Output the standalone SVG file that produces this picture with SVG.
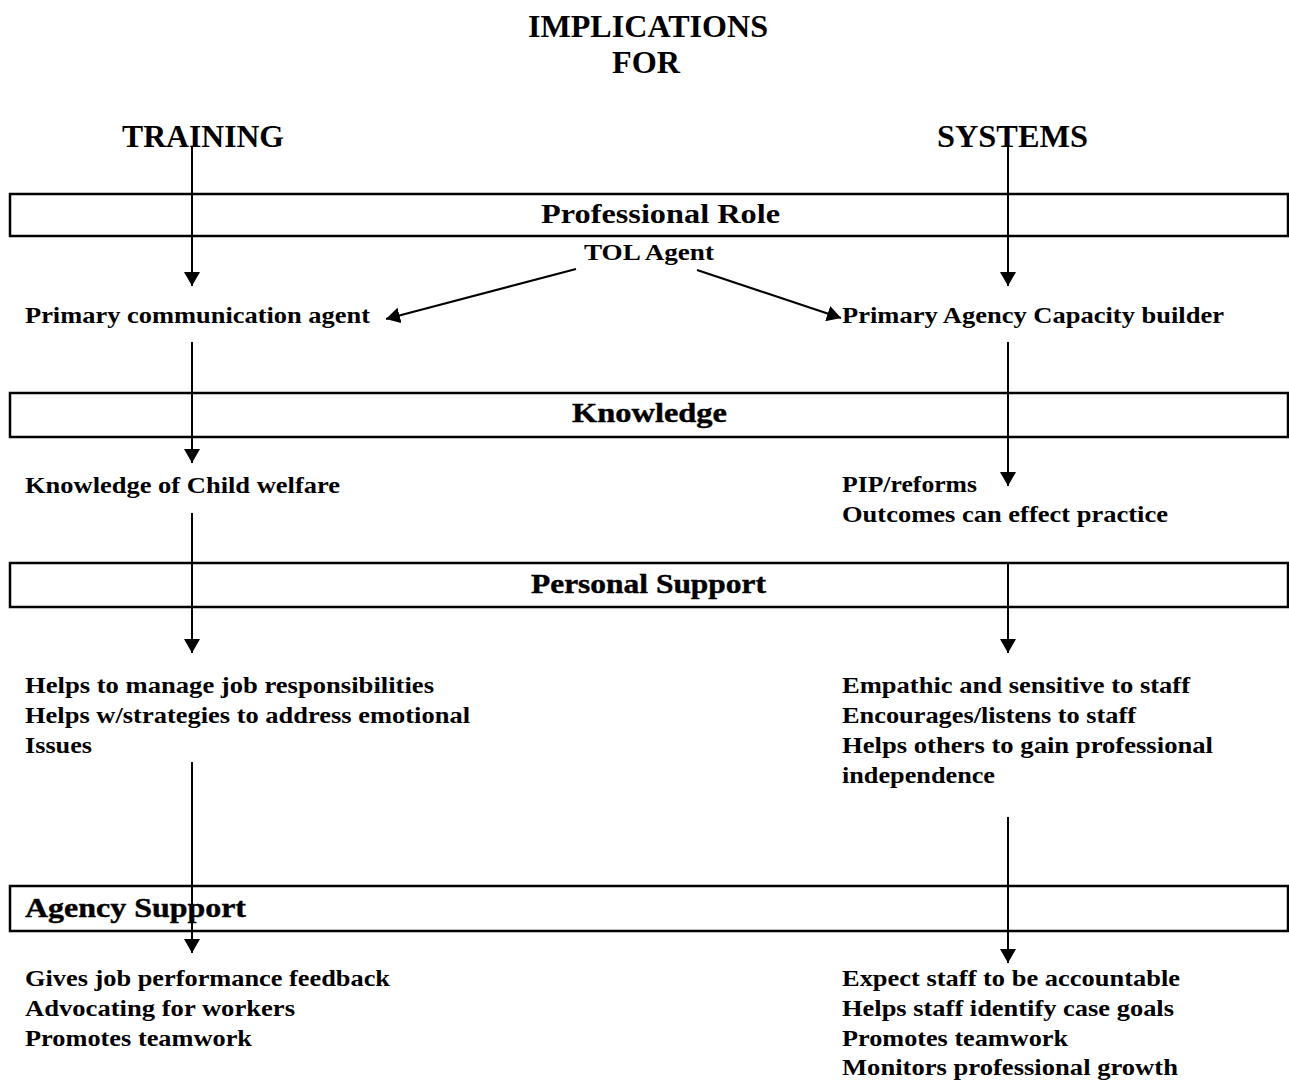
<svg xmlns="http://www.w3.org/2000/svg" width="1289" height="1082" viewBox="0 0 1289 1082">
<style>
text{font-family:"Liberation Serif","Times New Roman",serif;font-weight:bold;fill:#000}
.t{font-size:32px}
.b{font-size:23px}
.h{font-size:27px;stroke:#000;stroke-width:0.4}
.box{fill:none;stroke:#000;stroke-width:2.5}
.ln{stroke:#000;stroke-width:2;fill:none}
</style>
<defs>
<marker id="ah" viewBox="0 0 14 16" refX="14" refY="8" markerWidth="14" markerHeight="16" markerUnits="userSpaceOnUse" orient="auto">
<path d="M0,0 L14,8 L0,16 Z" fill="#000"/>
</marker>
</defs>
<rect width="1289" height="1082" fill="#fff"/>
<g id="title">
<text class="t" x="528" y="37" textLength="240" lengthAdjust="spacingAndGlyphs">IMPLICATIONS</text>
<text class="t" x="612" y="73" textLength="68" lengthAdjust="spacingAndGlyphs">FOR</text>
</g>
<g id="training"><text class="t" x="122" y="147" textLength="162" lengthAdjust="spacingAndGlyphs">TRAINING</text></g>
<g id="systems"><text class="t" x="937" y="147" textLength="151" lengthAdjust="spacingAndGlyphs">SYSTEMS</text></g>
<g id="box-professional-role">
<rect class="box" x="10" y="194" width="1278" height="42"/>
<text class="b" x="541" y="223" style="font-size:27px" textLength="239" lengthAdjust="spacingAndGlyphs">Professional Role</text>
</g>
<g id="tol-agent"><text class="b" x="584" y="260" textLength="130" lengthAdjust="spacingAndGlyphs">TOL Agent</text></g>
<g id="primary-communication"><text class="b" x="25" y="323" textLength="345" lengthAdjust="spacingAndGlyphs">Primary communication agent</text></g>
<g id="primary-agency"><text class="b" x="842" y="323" textLength="382" lengthAdjust="spacingAndGlyphs">Primary Agency Capacity builder</text></g>
<g id="box-knowledge">
<rect class="box" x="10" y="393" width="1278" height="44"/>
<text class="h" x="572" y="422" textLength="155" lengthAdjust="spacingAndGlyphs">Knowledge</text>
</g>
<g id="knowledge-child"><text class="b" x="25" y="493" textLength="315" lengthAdjust="spacingAndGlyphs">Knowledge of Child welfare</text></g>
<g id="pip">
<text class="b" x="842" y="492" textLength="135" lengthAdjust="spacingAndGlyphs">PIP/reforms</text>
<text class="b" x="842" y="522" textLength="326" lengthAdjust="spacingAndGlyphs">Outcomes can effect practice</text>
</g>
<g id="box-personal-support">
<rect class="box" x="10" y="563" width="1278" height="44"/>
<text class="h" x="531" y="593" textLength="235" lengthAdjust="spacingAndGlyphs">Personal Support</text>
</g>
<g id="personal-training">
<text class="b" x="25" y="693" textLength="409" lengthAdjust="spacingAndGlyphs">Helps to manage job responsibilities</text>
<text class="b" x="25" y="723" textLength="445" lengthAdjust="spacingAndGlyphs">Helps w/strategies to address emotional</text>
<text class="b" x="25" y="753" textLength="67" lengthAdjust="spacingAndGlyphs">Issues</text>
</g>
<g id="personal-systems">
<text class="b" x="842" y="693" textLength="348" lengthAdjust="spacingAndGlyphs">Empathic and sensitive to staff</text>
<text class="b" x="842" y="723" textLength="294" lengthAdjust="spacingAndGlyphs">Encourages/listens to staff</text>
<text class="b" x="842" y="753" textLength="371" lengthAdjust="spacingAndGlyphs">Helps others to gain professional</text>
<text class="b" x="842" y="783" textLength="153" lengthAdjust="spacingAndGlyphs">independence</text>
</g>
<g id="box-agency-support">
<rect class="box" x="10" y="886" width="1278" height="45"/>
<text class="h" x="25" y="917" style="font-size:28px" textLength="221" lengthAdjust="spacingAndGlyphs">Agency Support</text>
</g>
<g id="agency-training">
<text class="b" x="25" y="986" textLength="365" lengthAdjust="spacingAndGlyphs">Gives job performance feedback</text>
<text class="b" x="25" y="1016" textLength="270" lengthAdjust="spacingAndGlyphs">Advocating for workers</text>
<text class="b" x="25" y="1046" textLength="227" lengthAdjust="spacingAndGlyphs">Promotes teamwork</text>
</g>
<g id="agency-systems">
<text class="b" x="842" y="986" textLength="338" lengthAdjust="spacingAndGlyphs">Expect staff to be accountable</text>
<text class="b" x="842" y="1016" textLength="332" lengthAdjust="spacingAndGlyphs">Helps staff identify case goals</text>
<text class="b" x="842" y="1046" textLength="226" lengthAdjust="spacingAndGlyphs">Promotes teamwork</text>
<text class="b" x="842" y="1075" textLength="336" lengthAdjust="spacingAndGlyphs">Monitors professional growth</text>
</g>
<g id="connectors">
<line class="ln" x1="192" y1="147" x2="192" y2="286" marker-end="url(#ah)"/>
<line class="ln" x1="1008" y1="147" x2="1008" y2="286" marker-end="url(#ah)"/>
<line class="ln" x1="576" y1="269" x2="386" y2="319" marker-end="url(#ah)"/>
<line class="ln" x1="697" y1="270" x2="841" y2="318" marker-end="url(#ah)"/>
<line class="ln" x1="192" y1="342" x2="192" y2="463" marker-end="url(#ah)"/>
<line class="ln" x1="1008" y1="342" x2="1008" y2="486" marker-end="url(#ah)"/>
<line class="ln" x1="192" y1="513" x2="192" y2="653" marker-end="url(#ah)"/>
<line class="ln" x1="1008" y1="563" x2="1008" y2="653" marker-end="url(#ah)"/>
<line class="ln" x1="192" y1="762" x2="192" y2="953" marker-end="url(#ah)"/>
<line class="ln" x1="1008" y1="817" x2="1008" y2="963" marker-end="url(#ah)"/>
</g>
</svg>
